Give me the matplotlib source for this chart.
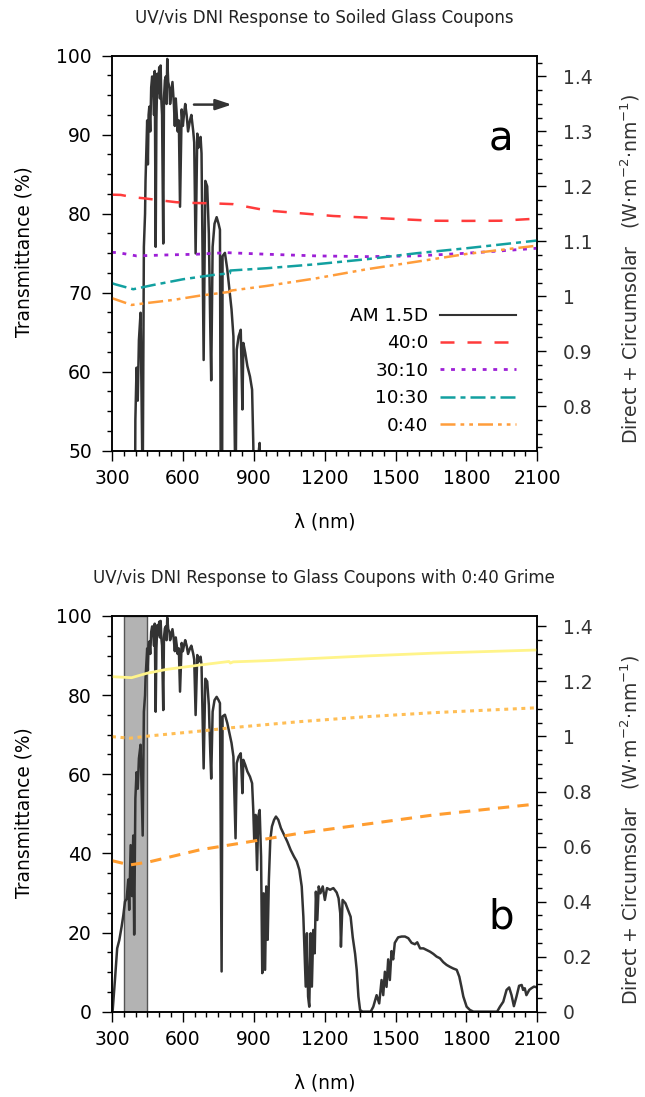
import matplotlib
matplotlib.use('Agg')
import matplotlib.pyplot as plt
from matplotlib.ticker import MultipleLocator, FormatStrFormatter
from matplotlib.lines import Line2D

plt.rcParams['font.family'] = 'DejaVu Sans'

# AM 1.5D direct + circumsolar spectrum (W m-2 nm-1)
wl_spec = [300, 303, 313, 322, 331, 341, 348, 355, 362, 369, 373, 379, 385, 390, 394, 399,
           404, 409, 414, 421, 430, 435, 440, 442, 445, 449, 452, 455, 458, 462, 466, 470,
           475, 478, 481, 485, 488, 492, 495, 500, 503, 506, 509, 512, 517, 520, 524, 528,
           531, 534, 538, 543, 546, 552, 556, 562, 566, 570, 574, 578, 583, 588, 595, 600,
           605, 610, 616, 622, 630, 636, 644, 648, 654, 661, 665, 670, 675, 679, 688, 695,
           703, 710, 716, 720, 726, 734, 743, 751, 757, 764, 768, 778, 788,
           797, 806, 814, 819, 823, 828, 836, 845, 852, 856, 864, 873, 884, 893, 898, 902,
           908, 914, 919, 925, 931, 936, 942, 948, 953, 959, 964, 970, 977, 986, 994, 1004,
           1015, 1028, 1042, 1056, 1070, 1082, 1093, 1103, 1110, 1115, 1120, 1125, 1130, 1135,
           1141, 1146, 1152, 1158, 1163, 1169, 1175, 1182, 1192, 1201, 1210, 1223, 1237, 1251,
           1259, 1266, 1269, 1276, 1288, 1296, 1310, 1319, 1329, 1336, 1343, 1350, 1360, 1395,
           1406, 1420, 1431, 1441, 1448, 1455, 1462, 1469, 1476, 1483, 1490, 1497, 1504, 1511,
           1526, 1540, 1554, 1568, 1582, 1592, 1604, 1618, 1632, 1646, 1660, 1674, 1688, 1702,
           1716, 1730, 1744, 1759, 1770, 1779, 1787, 1801, 1815, 1830, 1930, 1942, 1956, 1970,
           1981, 1991, 2001, 2012, 2023, 2034, 2040, 2047, 2054, 2066, 2075, 2086, 2100]
dni_spec = [0.0, 0.005, 0.12, 0.23, 0.26, 0.31, 0.35, 0.40, 0.41, 0.48, 0.37, 0.605, 0.42, 0.64, 0.28, 0.775,
            0.87, 0.81, 0.92, 0.97, 0.64, 1.09, 1.15, 1.21, 1.26, 1.32, 1.24, 1.33, 1.345, 1.30, 1.38, 1.40,
            1.375, 1.33, 1.41, 1.09, 1.32, 1.405, 1.37, 1.417, 1.36, 1.42, 1.357, 1.33, 1.096, 1.36, 1.393, 1.40,
            1.35, 1.432, 1.39, 1.38, 1.35, 1.375, 1.39, 1.35, 1.31, 1.36, 1.332, 1.30, 1.32, 1.163, 1.34, 1.31,
            1.332, 1.35, 1.33, 1.30, 1.32, 1.33, 1.30, 1.28, 1.078, 1.296, 1.27, 1.284, 1.29, 1.26, 0.884, 1.21,
            1.20, 1.114, 0.944, 0.847, 1.09, 1.132, 1.144, 1.132, 1.121, 0.146, 1.073, 1.079, 1.049,
            1.012, 0.976, 0.927, 0.77, 0.63, 0.903, 0.927, 0.939, 0.794, 0.915, 0.897, 0.873, 0.854, 0.83, 0.733, 0.624,
            0.715, 0.515, 0.709, 0.733, 0.564, 0.14, 0.43, 0.152, 0.455, 0.261, 0.479, 0.624, 0.673, 0.697, 0.709, 0.697,
            0.667, 0.643, 0.618, 0.588, 0.564, 0.546, 0.515, 0.455, 0.345, 0.212, 0.091, 0.285, 0.055, 0.018,
            0.285, 0.091, 0.297, 0.212, 0.436, 0.333, 0.455, 0.43, 0.455, 0.406, 0.449, 0.443, 0.449, 0.433,
            0.412, 0.358, 0.236, 0.406, 0.394, 0.376, 0.345, 0.27, 0.21, 0.15, 0.055, 0.006, 0.0, 0.0,
            0.018, 0.06, 0.03, 0.115, 0.06, 0.145, 0.09, 0.19, 0.115, 0.22, 0.19, 0.25, 0.26, 0.27,
            0.273, 0.273, 0.267, 0.25, 0.245, 0.252, 0.23, 0.23, 0.224, 0.218, 0.21, 0.20, 0.194, 0.18,
            0.17, 0.163, 0.157, 0.152, 0.127, 0.09, 0.055, 0.018, 0.006, 0.0, 0.0, 0.018, 0.036, 0.079,
            0.088, 0.06, 0.02, 0.055, 0.094, 0.097, 0.079, 0.085, 0.06, 0.079, 0.085, 0.091, 0.088]

# panel a: soiled coupons (transmittance %)
wl_40_0 = [300, 337, 390, 433, 500, 574, 650, 729, 813, 955, 1096, 1237, 1378, 1519, 1660, 1801, 1942, 2100]
t_40_0 = [82.4, 82.37, 82.07, 81.95, 81.7, 81.44, 81.35, 81.3, 81.2, 80.4, 80.05, 79.7, 79.5, 79.3, 79.1, 79.08, 79.1, 79.37]
wl_30_10 = [300, 327, 404, 531, 658, 785, 955, 1166, 1378, 1590, 1801, 1942, 2100]
t_30_10 = [75.1, 75.06, 74.65, 74.77, 74.86, 75.06, 74.86, 74.65, 74.56, 74.65, 74.99, 75.28, 75.62]
wl_10_30 = [300, 313, 390, 475, 602, 729, 799, 801, 955, 1166, 1378, 1590, 1801, 2100]
t_10_30 = [71.2, 71.06, 70.43, 70.97, 71.7, 72.24, 72.45, 72.8, 73.09, 73.6, 74.23, 74.99, 75.62, 76.6]
wl_0_40 = [300, 383, 461, 560, 672, 799, 801, 955, 1166, 1378, 1590, 1801, 2100]
t_0_40 = [69.3, 68.44, 68.73, 69.08, 69.62, 70.1, 70.25, 70.85, 71.82, 72.96, 73.92, 74.9, 75.95]

# panel b: coupons with 0:40 grime
wl_b1 = [300, 383, 447, 531, 672, 795, 801, 813, 955, 1096, 1378, 1660, 2100]
t_b1 = [84.66, 84.4, 85.5, 86.5, 87.6, 88.5, 88.1, 88.4, 88.7, 89.1, 89.9, 90.6, 91.4]
wl_b2 = [300, 376, 461, 672, 813, 1096, 1378, 1660, 2100]
t_b2 = [69.5, 69.1, 69.7, 70.9, 71.8, 73.3, 74.55, 75.56, 76.8]
wl_b3 = [300, 376, 461, 672, 898, 1096, 1378, 1660, 2100]
t_b3 = [38.16, 37.07, 37.9, 40.9, 43.1, 45.1, 47.4, 49.7, 52.5]

band = (350, 450)
k2 = 0.01438  # right axis units per % on left axis

spec_col = '#333333'

fig = plt.figure(figsize=(6.45, 10.97), dpi=100)
ax_a = fig.add_axes([0.1736, 0.5892, 0.6594, 0.3601])
ax_b = fig.add_axes([0.1736, 0.0778, 0.6594, 0.3607])


def style_axes(ax, ax2, ylim, ymaj, ymin, y2maj, y2min):
    ax.set_xlim(300, 2100)
    ax.set_ylim(*ylim)
    ax2.set_ylim(ylim[0] * k2, ylim[1] * k2)
    ax.xaxis.set_major_locator(MultipleLocator(300))
    ax.xaxis.set_minor_locator(MultipleLocator(50))
    ax.yaxis.set_major_locator(MultipleLocator(ymaj))
    ax.yaxis.set_minor_locator(MultipleLocator(ymin))
    ax2.yaxis.set_major_locator(MultipleLocator(y2maj))
    ax2.yaxis.set_minor_locator(MultipleLocator(y2min))
    ax2.yaxis.set_major_formatter(FormatStrFormatter('%g'))
    ax.tick_params(axis='both', which='major', direction='out', length=7.5, width=1.0,
                   labelsize=13.5, top=False, right=False)
    ax.tick_params(axis='both', which='minor', direction='out', length=3.8, width=1.0,
                   top=False, right=False)
    ax.tick_params(axis='y', which='major', pad=7)
    ax.tick_params(axis='x', which='major', pad=6)
    ax2.tick_params(axis='y', which='major', direction='out', length=6.5, width=1.0,
                    labelsize=13.5, pad=12, labelcolor='#333333')
    ax2.tick_params(axis='y', which='minor', direction='out', length=3.8, width=1.0)
    for a in (ax, ax2):
        for s in a.spines.values():
            s.set_linewidth(1.1)
    ax.set_zorder(ax2.get_zorder() + 1)
    ax.patch.set_visible(False)
    ax.set_xlabel('λ (nm)', fontsize=13.4, va='center')
    ax.set_ylabel('Transmittance (%)', fontsize=13.4, va='center')
    ax2.set_ylabel('Direct + Circumsolar   (W·m$^{-2}$·nm$^{-1}$)', fontsize=13.6,
                   va='center', color='#333333')


# ---- panel a ----
ax_a2 = ax_a.twinx()
ax_a2.plot(wl_spec, dni_spec, color=spec_col, lw=1.8)
ax_a.plot(wl_40_0, t_40_0, color='#ff3b3b', lw=1.8, ls=(0, (5.6, 5.2)))
ax_a.plot(wl_30_10, t_30_10, color='#9d1fd6', lw=2.0, ls=(0, (1.4, 2.4)))
ax_a.plot(wl_10_30, t_10_30, color='#12a0a0', lw=1.8, ls=(0, (6, 2, 2, 2)))
ax_a.plot(wl_0_40, t_0_40, color='#ff9d3b', lw=1.8, ls=(0, (6, 2, 1.5, 2, 1.5, 2)))
style_axes(ax_a, ax_a2, (50, 100), 10, 2.5, 0.1, 0.025)

handles = [Line2D([], [], color=spec_col, lw=1.5),
           Line2D([], [], color='#ff3b3b', lw=1.8, ls=(0, (5.6, 5.2))),
           Line2D([], [], color='#9d1fd6', lw=2.0, ls=(0, (1.4, 2.4))),
           Line2D([], [], color='#12a0a0', lw=1.8, ls=(0, (6, 2, 2, 2))),
           Line2D([], [], color='#ff9d3b', lw=1.8, ls=(0, (6, 2, 1.5, 2, 1.5, 2)))]
ax_a.legend(handles, ['AM 1.5D', '40:0', '30:10', '10:30', '0:40'], loc='center right',
            bbox_to_anchor=(0.95, 0.202), frameon=False, markerfirst=False, fontsize=13.3,
            handlelength=4.1, handletextpad=0.65, labelspacing=0.51, borderpad=0,
            borderaxespad=0)
ax_a.annotate('', xy=(807, 93.8), xytext=(647, 93.8),
              arrowprops=dict(arrowstyle='-|>,head_length=0.6,head_width=0.2',
                              color=spec_col, lw=1.8, mutation_scale=16, shrinkA=0, shrinkB=0))
ax_a.text(0.915, 0.761, 'a', transform=ax_a.transAxes, fontsize=29, ha='center', va='baseline')

# ---- panel b ----
ax_b2 = ax_b.twinx()
ax_b2.axvspan(band[0], band[1], facecolor='#b3b3b3', edgecolor='#555555', lw=1.0, zorder=0)
ax_b2.plot(wl_spec, dni_spec, color=spec_col, lw=1.8)
ax_b.plot(wl_b1, t_b1, color='#fff48a', lw=2.0)
ax_b.plot(wl_b2, t_b2, color='#ffbe55', lw=2.2, ls=(0, (1.3, 1.5)))
ax_b.plot(wl_b3, t_b3, color='#ff9d30', lw=2.2, ls=(0, (3.7, 2.7)))
style_axes(ax_b, ax_b2, (0, 100), 20, 5, 0.2, 0.05)
ax_b.text(0.915, 0.211, 'b', transform=ax_b.transAxes, fontsize=29, ha='center', va='baseline')

for ax, ax2 in ((ax_a, ax_a2), (ax_b, ax_b2)):
    ax.yaxis.set_label_coords(-0.207, 0.504)
    ax2.yaxis.set_label_coords(1.218, 0.46)
    ax.xaxis.set_label_coords(0.5, -0.1805)

fig.text(0.503, 1 - 18 / 1097, 'UV/vis DNI Response to Soiled Glass Coupons',
         fontsize=12, ha='center', va='center', color='#222222')
fig.text(0.503, 1 - 578 / 1097, 'UV/vis DNI Response to Glass Coupons with 0:40 Grime',
         fontsize=12, ha='center', va='center', color='#222222')

fig.savefig('out.png', dpi=100)
